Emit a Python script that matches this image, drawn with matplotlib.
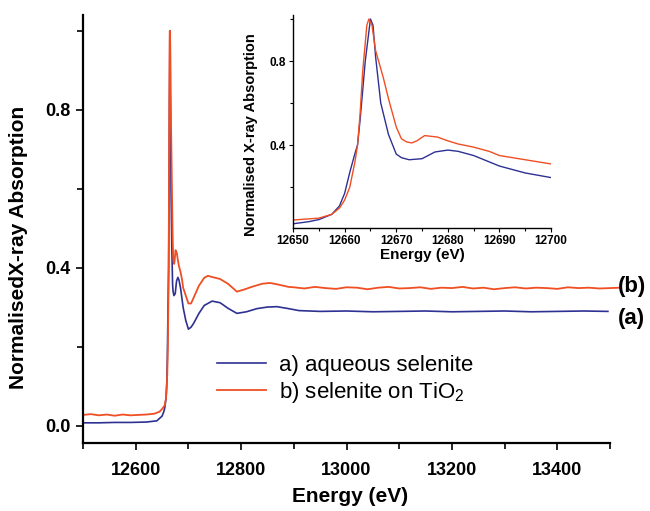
import numpy as np
import matplotlib
matplotlib.use('Agg')
import matplotlib.pyplot as plt

plt.rcParams['font.family'] = ['Liberation Sans', 'DejaVu Sans']
plt.rcParams['mathtext.default'] = 'regular'

# selenite K-edge XANES
blue_energy = [12500, 12530, 12560, 12590, 12620, 12640, 12650, 12653, 12655, 12657.5,
               12659, 12660, 12661, 12662, 12662.5, 12663, 12664, 12665, 12665.5, 12666,
               12667, 12667.6, 12668.5, 12670, 12671, 12672.5, 12675, 12677.5, 12680, 12682,
               12685, 12690, 12695, 12700, 12705, 12710, 12720, 12730, 12745, 12760,
               12775, 12792, 12810, 12830, 12850, 12868, 12890, 12910, 12950, 13000,
               13050, 13100, 13150, 13200, 13250, 13300, 13350, 13400, 13450, 13496]
blue_mu = [0.008, 0.008, 0.009, 0.009, 0.010, 0.013, 0.025, 0.035, 0.045, 0.07,
           0.11, 0.17, 0.27, 0.36, 0.40, 0.52, 0.80, 1.00, 0.97, 0.82,
           0.60, 0.54, 0.45, 0.357, 0.34, 0.33, 0.335, 0.367, 0.376, 0.37,
           0.35, 0.30, 0.267, 0.245, 0.25, 0.26, 0.285, 0.305, 0.316, 0.312,
           0.298, 0.285, 0.289, 0.297, 0.301, 0.302, 0.297, 0.292, 0.290, 0.291,
           0.289, 0.290, 0.291, 0.289, 0.290, 0.291, 0.289, 0.290, 0.291, 0.290]

tio2_energy = [12500, 12515, 12530, 12545, 12560, 12575, 12590, 12605, 12620, 12635,
               12645, 12650, 12655, 12657.5, 12659, 12660, 12661, 12662, 12662.5, 12663,
               12663.5, 12664.3, 12664.7, 12665.3, 12666, 12667.5, 12668.5, 12670, 12671, 12672,
               12673, 12674, 12675.5, 12678, 12680, 12682, 12685, 12688, 12690, 12693,
               12695, 12700, 12705, 12710, 12720, 12730, 12737, 12745, 12760, 12775,
               12792, 12805, 12820, 12840, 12855, 12870, 12890,
               12900, 12920, 12940, 12960, 12980, 13000, 13020, 13040, 13060, 13080,
               13100, 13120, 13140, 13160, 13180, 13200, 13220, 13240, 13260, 13280,
               13300, 13320, 13340, 13360, 13380, 13400, 13420, 13440, 13460, 13480,
               13500, 13520]
tio2_mu = [0.028, 0.030, 0.027, 0.029, 0.026, 0.029, 0.027, 0.028, 0.029, 0.031,
           0.036, 0.043, 0.052, 0.07, 0.10, 0.138, 0.20, 0.32, 0.40, 0.55,
           0.75, 0.97, 1.00, 0.97, 0.85, 0.72, 0.62, 0.486, 0.43, 0.415,
           0.41, 0.42, 0.445, 0.438, 0.42, 0.405, 0.39, 0.37, 0.35, 0.338,
           0.33, 0.31, 0.31, 0.325, 0.355, 0.375, 0.38, 0.377, 0.372, 0.36,
           0.34, 0.345, 0.352, 0.360, 0.362, 0.358, 0.352,
           0.351, 0.348, 0.352, 0.349, 0.347, 0.351, 0.350, 0.346, 0.350, 0.352,
           0.348, 0.349, 0.351, 0.347, 0.350, 0.349, 0.352, 0.348, 0.350, 0.346,
           0.349, 0.351, 0.348, 0.350, 0.349, 0.347, 0.351, 0.349, 0.350, 0.348,
           0.349, 0.350]

BLUE = '#2E3192'
ORANGE = '#F04E23'

fig = plt.figure(figsize=(6.5, 5.11), dpi=100)

# main panel
ax = fig.add_axes([0.1277, 0.1331, 0.8108, 0.8375])
ax.plot(blue_energy, blue_mu, color=BLUE, lw=1.2, label='a) aqueous selenite', clip_on=False)
ax.plot(tio2_energy, tio2_mu, color=ORANGE, lw=1.3, label='b) selenite on TiO$_2$', clip_on=False)
ax.set_xlim(12500, 13500)
ax.set_ylim(-0.043, 1.04)
for s in ['top', 'right']:
    ax.spines[s].set_visible(False)
for s in ['left', 'bottom']:
    ax.spines[s].set_linewidth(1.6)
ax.set_xticks(range(12600, 13401, 200))
ax.set_xticks(range(12500, 13501, 200), minor=True)
ax.set_yticks([0.0, 0.4, 0.8])
ax.set_yticks([0.2, 0.6, 1.0], minor=True)
ax.set_yticklabels(['0.0', '0.4', '0.8'])
ax.tick_params(which='both', direction='out', width=1.2, labelsize=13)
ax.tick_params(which='major', length=5, pad=4)
ax.tick_params(which='minor', length=4)
ax.tick_params(axis='x', pad=9)
for lab in ax.get_xticklabels() + ax.get_yticklabels():
    lab.set_fontweight('bold')
ax.set_xlabel('Energy (eV)', fontsize=15, fontweight='bold')
ax.set_ylabel('NormalisedX-ray Absorption', fontsize=15, fontweight='bold')
ax.xaxis.set_label_coords(0.507, -0.103)
ax.yaxis.set_label_coords(-0.104, 0.456)

ax.text(13515, 0.352, '(b)', fontsize=16, fontweight='bold', va='center', ha='left', clip_on=False)
ax.text(13515, 0.273, '(a)', fontsize=16, fontweight='bold', va='center', ha='left', clip_on=False)

ax.legend(loc='upper left', bbox_to_anchor=(217 / 650, 1 - 355 / 511), bbox_transform=fig.transFigure,
          frameon=False, fontsize=16, handlelength=2.2, handletextpad=0.6, labelspacing=0.18,
          borderpad=0, borderaxespad=0)

# inset, edge region
ins = fig.add_axes([0.4508, 0.5538, 0.397, 0.4168])
ins.plot(blue_energy, blue_mu, color=BLUE, lw=1.0)
ins.plot(tio2_energy, tio2_mu, color=ORANGE, lw=1.0)
ins.set_xlim(12650, 12700)
ins.set_ylim(0.005, 1.019)
for s in ['top', 'right']:
    ins.spines[s].set_visible(False)
for s in ['left', 'bottom']:
    ins.spines[s].set_linewidth(1.0)
ins.set_xticks(range(12650, 12701, 10))
ins.set_xticks(range(12655, 12700, 10), minor=True)
ins.set_yticks([0.4, 0.8])
ins.set_yticks([0.2, 0.6, 1.0], minor=True)
ins.set_yticklabels(['0.4', '0.8'])
ins.tick_params(which='both', direction='out', width=0.8, labelsize=8.5, pad=2)
ins.tick_params(which='major', length=3)
ins.tick_params(which='minor', length=2)
for lab in ins.get_xticklabels() + ins.get_yticklabels():
    lab.set_fontweight('bold')
ins.set_xlabel('Energy (eV)', fontsize=11, fontweight='bold')
ins.set_ylabel('Normalised X-ray Absorption', fontsize=10.5, fontweight='bold')
ins.xaxis.set_label_coords(0.5, -0.094)
ins.yaxis.set_label_coords(-0.136, 0.437)

fig.savefig('out.png', dpi=100)
